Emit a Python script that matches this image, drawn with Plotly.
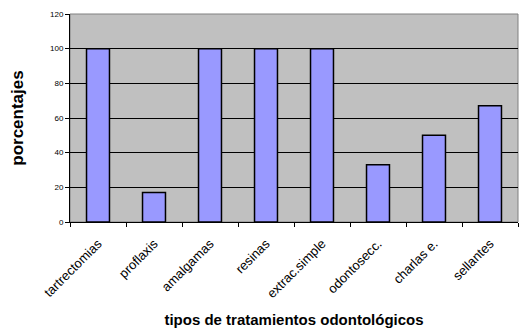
import plotly.graph_objects as go

categorias = ["tartrectomias", "proflaxis", "amalgamas", "resinas", "extrac.simple",
              "odontosecc.", "charlas e.", "sellantes"]
porcentajes = [100, 17, 100, 100, 100, 33, 50, 67]
y_ticks = [0, 20, 40, 60, 80, 100, 120]

fig = go.Figure(go.Bar(
    x=categorias, y=porcentajes,
    marker=dict(color="#9999FF", line=dict(color="black", width=1.5)),
))

fig.update_layout(
    width=529, height=332,
    margin=dict(l=62, r=19, t=6, b=118),
    paper_bgcolor="white", plot_bgcolor="#C0C0C0",
    bargap=0.59, showlegend=False,
    font=dict(family="Arial, Liberation Sans, sans-serif", color="black"),
)
fig.update_xaxes(
    tickangle=-45, tickfont=dict(size=13), ticks="outside", tickson="boundaries",
    ticklen=4, tickcolor="black", showline=True, linecolor="black", linewidth=1,
    mirror=False, showgrid=False, automargin=False, ticklabelstandoff=8,
    title=dict(text="<b>tipos de tratamientos odontológicos</b>", font=dict(size=15), standoff=14),
)
fig.update_yaxes(
    range=[0, 120], tickvals=y_ticks, tickfont=dict(size=8), ticks="outside",
    ticklen=4, tickcolor="black", showline=True, linecolor="black", linewidth=1,
    gridcolor="black", gridwidth=1.3, zeroline=False, automargin=False,
    title=dict(text="<b>porcentajes</b>", font=dict(size=17), standoff=34),
)
fig.add_shape(type="rect", xref="paper", yref="paper", x0=0, y0=0, x1=1, y1=1,
              line=dict(color="#808080", width=1), layer="below")
fig.write_html("out.html")
